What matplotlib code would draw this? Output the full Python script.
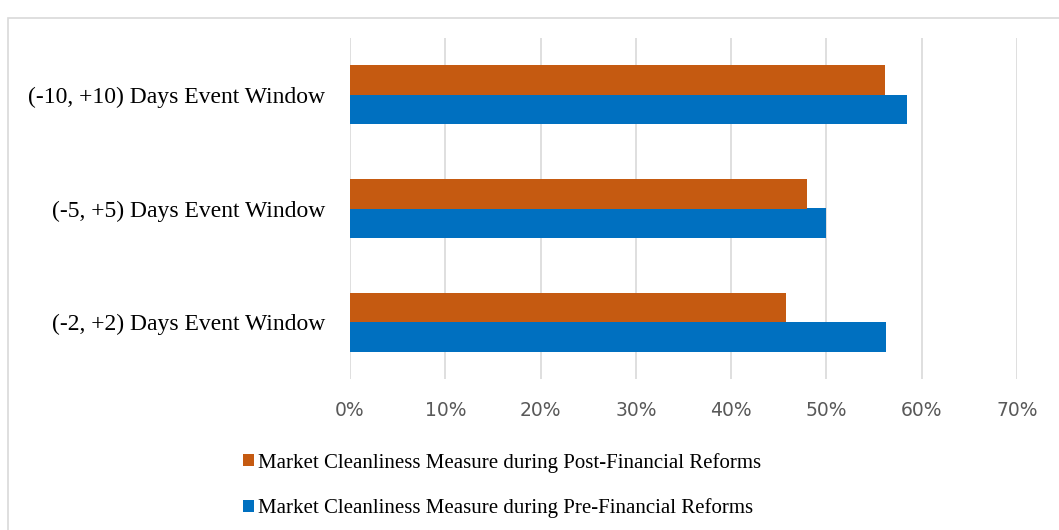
import matplotlib
matplotlib.use("Agg")
import matplotlib.pyplot as plt
from matplotlib.patches import Patch, Rectangle
import numpy as np

# Event windows (bottom to top on the chart)
categories = ["(-2, +2) Days Event Window",
              "(-5, +5) Days Event Window",
              "(-10, +10) Days Event Window"]
post_reform = [45.8, 48.0, 56.1]   # % cleanliness, post-financial reforms
pre_reform = [56.3, 50.0, 58.5]    # % cleanliness, pre-financial reforms
x_ticks = [0, 10, 20, 30, 40, 50, 60, 70]

series_labels = ["Market Cleanliness Measure during Post-Financial Reforms",
                 "Market Cleanliness Measure during Pre-Financial Reforms"]
orange = "#C55A11"
blue = "#0070C0"
grid_col = "#D9D9D9"

W, H = 1059, 530
fig = plt.figure(figsize=(W / 100, H / 100), dpi=100)
ax = fig.add_axes([350 / W, 1 - 379 / H, (1017 - 350) / W, (379 - 38) / H])

# outer chart-area frame (only top and left edges fall inside the image)
fig.patches.append(Rectangle((8 / W, -0.1), 1.2, 1 - 17.5 / H + 0.1,
                             transform=fig.transFigure, fill=False,
                             edgecolor=grid_col, linewidth=1.2))

y = np.arange(len(categories))
h = 0.26
ax.barh(y - h / 2, pre_reform, height=h, color=blue, zorder=3)
ax.barh(y + h / 2, post_reform, height=h, color=orange, zorder=3)

ax.set_xlim(0, 70)
ax.set_ylim(-0.5, len(categories) - 0.5)
ax.set_xticks(x_ticks)
ax.set_xticklabels([f"{t}%" for t in x_ticks], fontsize=13.5,
                   color="#595959", family="DejaVu Sans")
ax.set_yticks(y)
ax.set_yticklabels(categories, fontsize=17, color="black",
                   family="Liberation Serif")
ax.tick_params(axis="x", length=0, pad=16)
ax.tick_params(axis="y", length=0, pad=18)
ax.grid(axis="x", color=grid_col, linewidth=1.2, zorder=0)
for s in ax.spines.values():
    s.set_visible(False)

handles = [Patch(facecolor=orange, edgecolor="none"),
           Patch(facecolor=blue, edgecolor="none")]
fig.legend(handles, series_labels, loc="center left",
           bbox_to_anchor=(243 / W, 1 - 485.5 / H),
           frameon=False, prop={"family": "Liberation Serif", "size": 15},
           handlelength=0.53, handleheight=0.53, handletextpad=0.2,
           labelspacing=1.23, borderpad=0, borderaxespad=0)

fig.savefig("out.png", dpi=100, facecolor="white")
